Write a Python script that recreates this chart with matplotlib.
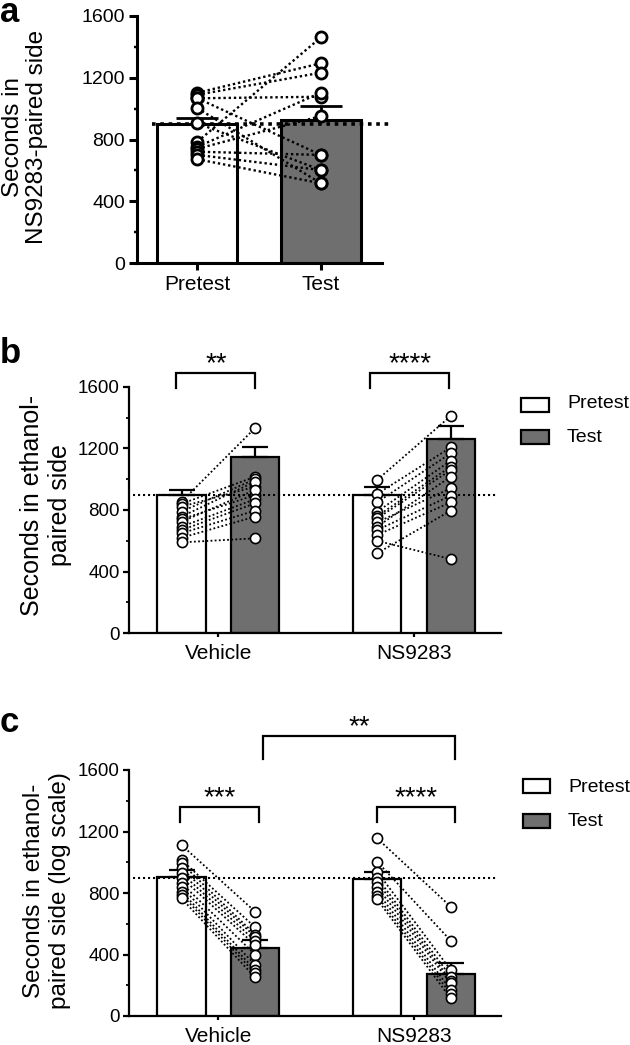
import matplotlib
matplotlib.use("Agg")
import matplotlib.pyplot as plt
from matplotlib.patches import Rectangle
import numpy as np

plt.rcParams['font.family'] = ['Liberation Sans', 'DejaVu Sans']

# ---------------- data ----------------
a_groups = ['Pretest', 'Test']
a_means = [898, 926]
a_sem = [43, 91]
a_pre = [1103, 1090, 1067, 1067, 1002, 905, 786, 753, 740, 721, 700, 672]
a_test = [1294, 1233, 1077, 700, 516, 602, 1462, 1103, 952, 700, 602, 516]

groups = ['Vehicle', 'NS9283']
legend_labels = ['Pretest', 'Test']

b_means_pre = [897, 897]
b_means_test = [1142, 1261]
b_sem_pre = [33, 50]
b_sem_test = [64, 84]
b_veh_pre = [854, 840, 822, 790, 757, 740, 724, 692, 670, 649, 620, 590]
b_veh_test = [1332, 1016, 951, 1000, 984, 897, 930, 870, 843, 796, 757, 616]
b_ns_pre = [995, 904, 850, 789, 760, 746, 720, 692, 670, 638, 600, 519]
b_ns_test = [1410, 1206, 1168, 1120, 1081, 1059, 941, 1016, 893, 850, 482, 796]
b_sig = ['**', '****']

c_means_pre = [902, 889]
c_means_test = [444, 273]
c_sem_pre = [48, 48]
c_sem_test = [50, 74]
c_veh_pre = [1112, 1015, 993, 960, 928, 900, 863, 840, 809, 790, 765]
c_veh_test = [679, 577, 530, 516, 490, 462, 400, 332, 300, 278, 251]
c_ns_pre = [1156, 1004, 939, 900, 874, 840, 809, 780, 759]
c_ns_test = [711, 490, 299, 256, 230, 212, 170, 143, 115]
c_sig = ['***', '****']
c_sig_between = '**'

chance = 900
yticks = [0, 400, 800, 1200, 1600]

WHITE = '#ffffff'
GREY = '#6f6f6f'

W, H = 630, 1045
fig = plt.figure(figsize=(W / 100, H / 100), dpi=100)


def px_axes(l, t, r, b):
    return fig.add_axes([l / W, 1 - b / H, (r - l) / W, (b - t) / H])


def style_axes(ax, lw, ylab_size, tlen, mlen, pad):
    for s in ['top', 'right']:
        ax.spines[s].set_visible(False)
    for s in ['left', 'bottom']:
        ax.spines[s].set_linewidth(lw)
    ax.set_ylim(0, 1600)
    ax.set_yticks(yticks)
    ax.set_yticks([200, 600, 1000, 1400], minor=True)
    ax.tick_params(axis='y', which='major', length=tlen, width=lw, pad=pad,
                   labelsize=ylab_size, direction='out')
    ax.tick_params(axis='y', which='minor', length=mlen, width=lw * 0.8, direction='out')


# ---------------- panel a ----------------
axa = px_axes(136.7, 16, 382, 263)
xa = np.arange(len(a_groups))
axa.bar(xa, a_means, width=0.648, color=[WHITE, GREY], edgecolor='black',
        linewidth=2.2, zorder=1)
axa.errorbar(xa, a_means, yerr=[[0, 0], a_sem], fmt='none', ecolor='black',
             elinewidth=2.0, capsize=15, capthick=2.0, zorder=2)
for p, t in zip(a_pre, a_test):
    axa.plot([0, 1], [p, t], linestyle=(0, (1, 1.2)), color='black', lw=1.7, zorder=3)
axa.plot([0] * len(a_pre), a_pre, 'o', ms=8, mfc='white', mec='black', mew=2.0, zorder=5)
axa.plot([1] * len(a_test), a_test, 'o', ms=8, mfc='white', mec='black', mew=2.0, zorder=5)
axa.plot([-0.368, 1.575], [chance, chance], linestyle=(0, (1, 1.3)), color='black',
         lw=2.6, zorder=4, clip_on=False)
axa.set_xlim(-0.492, 1.494)
style_axes(axa, 2.2, 14, 6, 2.5, 2.5)
axa.set_xticks(xa)
axa.set_xticklabels(a_groups)
axa.tick_params(axis='x', length=5, width=2.2, pad=4, labelsize=15)
fig.text(25 / W, 1 - 137 / H, 'Seconds in\nNS9283-paired side', rotation=90,
         ha='center', va='center', multialignment='center', fontsize=17.5, linespacing=1.15)
fig.text(0, 1 - 22 / H, 'a', fontsize=25, fontweight='bold', va='baseline', ha='left')


# ---------------- panels b, c ----------------
OFF = 0.188
BW = 0.247


def grouped_panel(ax, means_pre, means_test, sem_pre, sem_test, pres, tests):
    xg = np.arange(len(groups))
    ax.bar(xg - OFF, means_pre, width=BW, color=WHITE, edgecolor='black', linewidth=1.6, zorder=1)
    ax.bar(xg + OFF, means_test, width=BW, color=GREY, edgecolor='black', linewidth=1.6, zorder=1)
    ax.errorbar(np.concatenate([xg - OFF, xg + OFF]), list(means_pre) + list(means_test),
                yerr=[[0] * 4, list(sem_pre) + list(sem_test)], fmt='none', ecolor='black',
                elinewidth=1.6, capsize=9.5, capthick=1.6, zorder=2)
    for gi, (pre, tst) in enumerate(zip(pres, tests)):
        for p, t in zip(pre, tst):
            ax.plot([gi - OFF, gi + OFF], [p, t], linestyle=(0, (1, 1.3)), color='black',
                    lw=1.3, zorder=3)
        ax.plot([gi - OFF] * len(pre), pre, 'o', ms=7.3, mfc='white', mec='black', mew=1.2, zorder=5)
        ax.plot([gi + OFF] * len(tst), tst, 'o', ms=7.3, mfc='white', mec='black', mew=1.2, zorder=5)
    ax.plot([-0.437, 1.432], [chance, chance], linestyle=(0, (1, 1.4)), color='black',
            lw=1.5, zorder=4, clip_on=False)
    ax.set_xlim(-0.458, 1.443)
    style_axes(ax, 1.6, 13.5, 4.5, 2.5, 2)
    ax.set_xticks(xg)
    ax.set_xticklabels(groups)
    ax.tick_params(axis='x', length=3, width=1.6, pad=5, labelsize=15)


def bracket(ax, x0, x1, ytop, ybot, label, fs=20):
    ax.plot([x0, x0, x1, x1], [ybot, ytop, ytop, ybot], color='black', lw=1.6,
            clip_on=False, solid_joinstyle='miter', zorder=6)
    ax.text((x0 + x1) / 2, ytop + 15, label, ha='center', va='baseline', fontsize=fs,
            clip_on=False)


def legend(top_pre, top_test, box_l, box_r, box_h, text_x, ycen_pre, ycen_test):
    for top, col, lab, yc in [(top_pre, WHITE, legend_labels[0], ycen_pre),
                              (top_test, GREY, legend_labels[1], ycen_test)]:
        fig.add_artist(Rectangle((box_l / W, 1 - (top + box_h) / H), (box_r - box_l) / W, box_h / H,
                                 transform=fig.transFigure, facecolor=col, edgecolor='black',
                                 linewidth=1.6))
        fig.text(text_x / W, 1 - yc / H, lab, fontsize=14, ha='left', va='center')


axb = px_axes(128.7, 386.7, 500.6, 633.3)
grouped_panel(axb, b_means_pre, b_means_test, b_sem_pre, b_sem_test,
              [b_veh_pre, b_ns_pre], [b_veh_test, b_ns_test])
bracket(axb, -0.215, 0.19, 1686, 1594, b_sig[0])
bracket(axb, 0.775, 1.18, 1686, 1594, b_sig[1])
fig.text(46 / W, 1 - 505 / H, 'Seconds in ethanol-\npaired side', rotation=90,
         ha='center', va='center', multialignment='center', fontsize=18, linespacing=1.2)
fig.text(0, 1 - 363 / H, 'b', fontsize=25, fontweight='bold', va='baseline', ha='left')
legend(398, 430, 521, 549, 14, 567, 404, 437)

axc = px_axes(128.7, 770, 500.6, 1016)
grouped_panel(axc, c_means_pre, c_means_test, c_sem_pre, c_sem_test,
              [c_veh_pre, c_ns_pre], [c_veh_test, c_ns_test])
bracket(axc, -0.196, 0.208, 1357, 1264, c_sig[0])
bracket(axc, 0.811, 1.212, 1357, 1264, c_sig[1])
bracket(axc, 0.226, 1.212, 1821, 1669, c_sig_between)
fig.text(47 / W, 1 - 891 / H, 'Seconds in ethanol-\npaired side (log scale)', rotation=90,
         ha='center', va='center', multialignment='center', fontsize=17.5, linespacing=1.2)
fig.text(0, 1 - 732 / H, 'c', fontsize=25, fontweight='bold', va='baseline', ha='left')
legend(779, 814, 523, 550, 14, 568, 787, 822)

fig.savefig('out.png', dpi=100)
